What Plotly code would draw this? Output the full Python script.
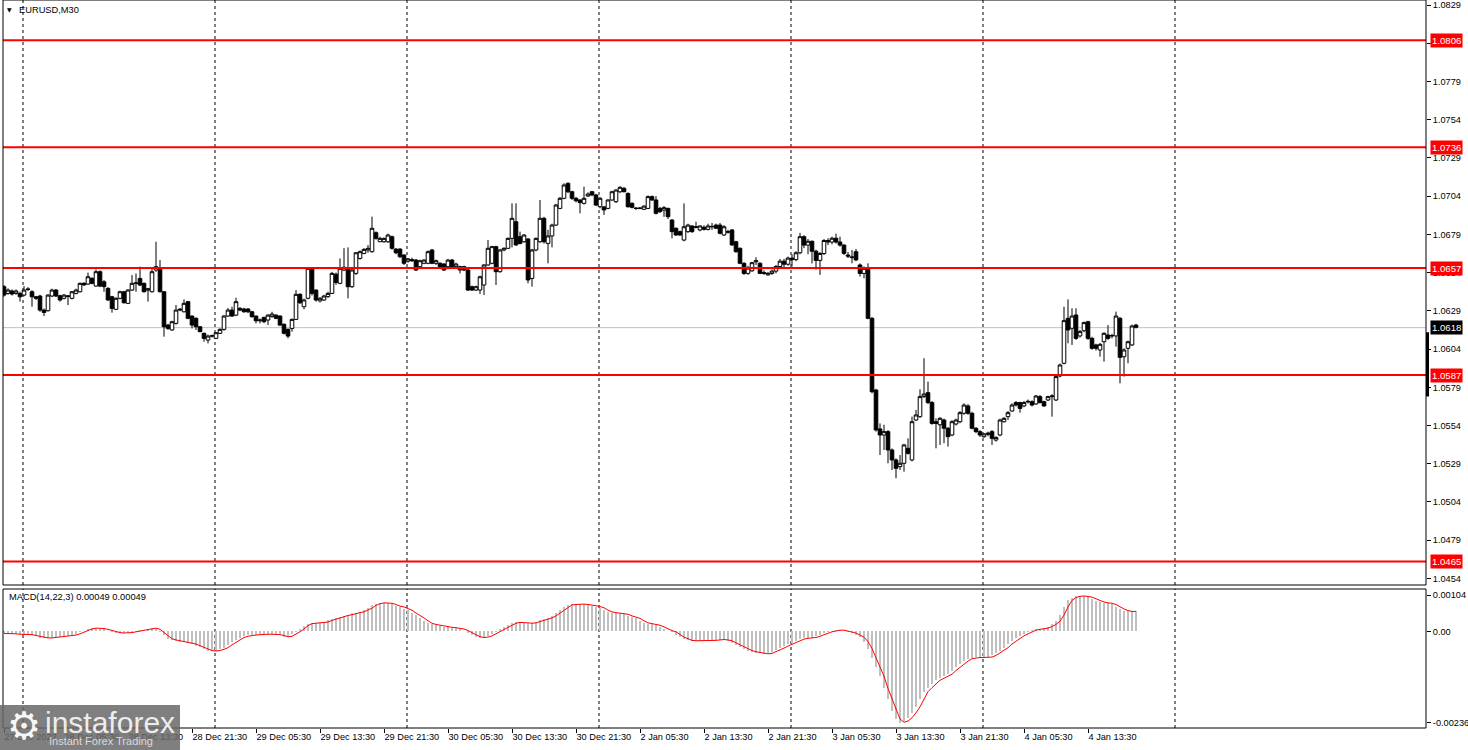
import plotly.graph_objects as go

# ---------------- data (EURUSD M30) ----------------
open_ = [1.06448, 1.06404, 1.06420, 1.06404, 1.06404, 1.06393, 1.06430, 1.06415, 1.06382, 1.06387,
         1.06295, 1.06291, 1.06387, 1.06426, 1.06389, 1.06372, 1.06385, 1.06372, 1.06404, 1.06415,
         1.06470, 1.06465, 1.06502, 1.06452, 1.06546, 1.06480, 1.06437, 1.06382, 1.06300, 1.06372,
         1.06415, 1.06339, 1.06426, 1.06470, 1.06502, 1.06470, 1.06425, 1.06415, 1.06557, 1.06568,
         1.06415, 1.06197, 1.06165, 1.06208, 1.06295, 1.06284, 1.06350, 1.06256, 1.06241, 1.06186,
         1.06143, 1.06099, 1.06125, 1.06110, 1.06143, 1.06169, 1.06256, 1.06295, 1.06262, 1.06306,
         1.06302, 1.06302, 1.06284, 1.06256, 1.06225, 1.06247, 1.06230, 1.06252, 1.06262, 1.06256,
         1.06202, 1.06169, 1.06175, 1.06234, 1.06398, 1.06317, 1.06372, 1.06568, 1.06426, 1.06355,
         1.06361, 1.06383, 1.06404, 1.06530, 1.06470, 1.06557, 1.06568, 1.06448, 1.06535, 1.06633,
         1.06666, 1.06688, 1.06677, 1.06801, 1.06742, 1.06742, 1.06742, 1.06775, 1.06694, 1.06694,
         1.06655, 1.06615, 1.06625, 1.06622, 1.06579, 1.06601, 1.06601, 1.06688, 1.06601, 1.06601,
         1.06596, 1.06579, 1.06622, 1.06579, 1.06579, 1.06579, 1.06557, 1.06448, 1.06426, 1.06426,
         1.06459, 1.06590, 1.06601, 1.06710, 1.06546, 1.06688, 1.06699, 1.06764, 1.06873, 1.06775,
         1.06742, 1.06760, 1.06502, 1.06688, 1.06742, 1.06895, 1.06731, 1.06780, 1.06851, 1.06960,
         1.07026, 1.07124, 1.07069, 1.07026, 1.07015, 1.06993, 1.07041, 1.07069, 1.07048, 1.06971,
         1.06970, 1.06960, 1.07015, 1.07004, 1.07069, 1.07091, 1.07058, 1.06993, 1.06962, 1.06960,
         1.06954, 1.06960, 1.07037, 1.07015, 1.06960, 1.06949, 1.06960, 1.06884, 1.06830, 1.06808,
         1.06753, 1.06808, 1.06845, 1.06835, 1.06819, 1.06836, 1.06823, 1.06840, 1.06851, 1.06851,
         1.06786, 1.06808, 1.06819, 1.06742, 1.06699, 1.06601, 1.06535, 1.06552, 1.06610, 1.06601,
         1.06540, 1.06525, 1.06535, 1.06550, 1.06580, 1.06615, 1.06595, 1.06635, 1.06625, 1.06670,
         1.06775, 1.06720, 1.06745, 1.06680, 1.06620, 1.06665, 1.06750, 1.06740, 1.06765, 1.06740,
         1.06720, 1.06655, 1.06638, 1.06677, 1.06590, 1.06535, 1.06568, 1.06241, 1.05772, 1.05518,
         1.05478, 1.05500, 1.05380, 1.05315, 1.05271, 1.05293, 1.05391, 1.05315, 1.05576, 1.05598,
         1.05729, 1.05755, 1.05690, 1.05565, 1.05545, 1.05576, 1.05522, 1.05478, 1.05550, 1.05565,
         1.05620, 1.05668, 1.05620, 1.05522, 1.05500, 1.05467, 1.05482, 1.05500, 1.05445, 1.05478,
         1.05565, 1.05598, 1.05635, 1.05690, 1.05690, 1.05668, 1.05694, 1.05696, 1.05681, 1.05729,
         1.05696, 1.05707, 1.05729, 1.05707, 1.05864, 1.05947, 1.06241, 1.06176, 1.06263, 1.06126,
         1.06160, 1.06219, 1.06110, 1.06067, 1.06034, 1.06088, 1.06132, 1.06126, 1.06126, 1.06241,
         1.05990, 1.06045, 1.06067, 1.06197]

high = [1.06459, 1.06437, 1.06430, 1.06430, 1.06415, 1.06452, 1.06445, 1.06425, 1.06388, 1.06395,
        1.06305, 1.06400, 1.06435, 1.06433, 1.06395, 1.06400, 1.06393, 1.06420, 1.06435, 1.06475,
        1.06478, 1.06540, 1.06510, 1.06561, 1.06555, 1.06491, 1.06445, 1.06388, 1.06378, 1.06422,
        1.06420, 1.06432, 1.06524, 1.06535, 1.06579, 1.06475, 1.06440, 1.06568, 1.06742, 1.06622,
        1.06420, 1.06205, 1.06225, 1.06328, 1.06308, 1.06365, 1.06355, 1.06260, 1.06248, 1.06190,
        1.06148, 1.06135, 1.06135, 1.06152, 1.06175, 1.06262, 1.06308, 1.06317, 1.06376, 1.06315,
        1.06310, 1.06308, 1.06290, 1.06260, 1.06240, 1.06252, 1.06268, 1.06284, 1.06268, 1.06260,
        1.06208, 1.06175, 1.06240, 1.06426, 1.06405, 1.06370, 1.06575, 1.06573, 1.06430, 1.06380,
        1.06395, 1.06415, 1.06545, 1.06540, 1.06633, 1.06700, 1.06705, 1.06565, 1.06675, 1.06685,
        1.06700, 1.06720, 1.06906, 1.06810, 1.06775, 1.06770, 1.06795, 1.06782, 1.06700, 1.06700,
        1.06660, 1.06635, 1.06638, 1.06630, 1.06625, 1.06628, 1.06685, 1.06695, 1.06625, 1.06608,
        1.06602, 1.06630, 1.06630, 1.06605, 1.06585, 1.06585, 1.06565, 1.06455, 1.06455, 1.06520,
        1.06595, 1.06753, 1.06715, 1.06715, 1.06695, 1.06705, 1.06770, 1.06993, 1.06993, 1.06808,
        1.06792, 1.06765, 1.06695, 1.06770, 1.07015, 1.06905, 1.06820, 1.06860, 1.06990, 1.07035,
        1.07124, 1.07130, 1.07075, 1.07035, 1.07020, 1.07102, 1.07065, 1.07075, 1.07055, 1.07035,
        1.06975, 1.07020, 1.07075, 1.07085, 1.07105, 1.07100, 1.07065, 1.07000, 1.06968, 1.06968,
        1.06980, 1.07045, 1.07045, 1.07040, 1.06970, 1.06975, 1.06965, 1.06890, 1.06835, 1.06815,
        1.06993, 1.06860, 1.06850, 1.06873, 1.06850, 1.06850, 1.06860, 1.06865, 1.06860, 1.06865,
        1.06850, 1.06820, 1.06825, 1.06748, 1.06705, 1.06608, 1.06585, 1.06610, 1.06640, 1.06608,
        1.06555, 1.06545, 1.06560, 1.06590, 1.06630, 1.06630, 1.06645, 1.06660, 1.06680, 1.06800,
        1.06785, 1.06760, 1.06750, 1.06690, 1.06675, 1.06760, 1.06765, 1.06775, 1.06795, 1.06775,
        1.06725, 1.06675, 1.06688, 1.06695, 1.06600, 1.06580, 1.06601, 1.06250, 1.05780, 1.05554,
        1.05545, 1.05510, 1.05390, 1.05325, 1.05347, 1.05420, 1.05456, 1.05598, 1.05642, 1.05777,
        1.05980, 1.05827, 1.05700, 1.05587, 1.05595, 1.05585, 1.05530, 1.05575, 1.05585, 1.05635,
        1.05685, 1.05680, 1.05630, 1.05530, 1.05510, 1.05490, 1.05500, 1.05510, 1.05470, 1.05585,
        1.05595, 1.05635, 1.05685, 1.05700, 1.05695, 1.05700, 1.05710, 1.05705, 1.05740, 1.05740,
        1.05702, 1.05735, 1.05745, 1.05870, 1.05945, 1.06317, 1.06365, 1.06307, 1.06307, 1.06165,
        1.06220, 1.06225, 1.06120, 1.06075, 1.06080, 1.06150, 1.06197, 1.06140, 1.06285, 1.06250,
        1.06045, 1.06095, 1.06200, 1.06205]

low = [1.06383, 1.06395, 1.06390, 1.06395, 1.06350, 1.06385, 1.06420, 1.06317, 1.06361, 1.06284,
       1.06256, 1.06285, 1.06380, 1.06380, 1.06350, 1.06365, 1.06328, 1.06365, 1.06398, 1.06410,
       1.06452, 1.06460, 1.06463, 1.06448, 1.06445, 1.06415, 1.06355, 1.06278, 1.06295, 1.06365,
       1.06338, 1.06335, 1.06420, 1.06415, 1.06452, 1.06410, 1.06350, 1.06410, 1.06545, 1.06410,
       1.06121, 1.06165, 1.06160, 1.06200, 1.06288, 1.06280, 1.06235, 1.06175, 1.06165, 1.06150,
       1.06088, 1.06077, 1.06115, 1.06105, 1.06138, 1.06160, 1.06250, 1.06250, 1.06255, 1.06288,
       1.06278, 1.06275, 1.06245, 1.06208, 1.06208, 1.06210, 1.06197, 1.06245, 1.06235, 1.06190,
       1.06135, 1.06110, 1.06154, 1.06230, 1.06335, 1.06300, 1.06365, 1.06390, 1.06350, 1.06345,
       1.06355, 1.06375, 1.06400, 1.06460, 1.06465, 1.06550, 1.06372, 1.06440, 1.06525, 1.06625,
       1.06660, 1.06670, 1.06670, 1.06755, 1.06740, 1.06735, 1.06735, 1.06690, 1.06660, 1.06635,
       1.06590, 1.06605, 1.06610, 1.06550, 1.06570, 1.06595, 1.06595, 1.06595, 1.06590, 1.06570,
       1.06550, 1.06575, 1.06572, 1.06565, 1.06535, 1.06550, 1.06420, 1.06420, 1.06420, 1.06400,
       1.06393, 1.06585, 1.06595, 1.06459, 1.06540, 1.06680, 1.06695, 1.06705, 1.06715, 1.06725,
       1.06735, 1.06470, 1.06448, 1.06680, 1.06735, 1.06730, 1.06601, 1.06705, 1.06845, 1.06955,
       1.07020, 1.07060, 1.07015, 1.07000, 1.06928, 1.06985, 1.07035, 1.07040, 1.06975, 1.06960,
       1.06917, 1.06955, 1.07010, 1.06995, 1.07060, 1.07065, 1.06965, 1.06960, 1.06950, 1.06955,
       1.06950, 1.06955, 1.07010, 1.06920, 1.06930, 1.06905, 1.06890, 1.06764, 1.06780, 1.06780,
       1.06745, 1.06800, 1.06800, 1.06830, 1.06810, 1.06815, 1.06815, 1.06820, 1.06825, 1.06790,
       1.06780, 1.06795, 1.06715, 1.06670, 1.06595, 1.06525, 1.06525, 1.06545, 1.06590, 1.06530,
       1.06525, 1.06520, 1.06525, 1.06535, 1.06570, 1.06575, 1.06585, 1.06580, 1.06615, 1.06660,
       1.06700, 1.06660, 1.06600, 1.06560, 1.06525, 1.06655, 1.06720, 1.06725, 1.06730, 1.06710,
       1.06655, 1.06635, 1.06601, 1.06615, 1.06514, 1.06503, 1.06235, 1.05750, 1.05500, 1.05347,
       1.05380, 1.05293, 1.05249, 1.05195, 1.05249, 1.05238, 1.05350, 1.05305, 1.05570, 1.05590,
       1.05720, 1.05680, 1.05545, 1.05391, 1.05413, 1.05424, 1.05402, 1.05470, 1.05540, 1.05555,
       1.05610, 1.05610, 1.05515, 1.05490, 1.05465, 1.05460, 1.05470, 1.05413, 1.05435, 1.05470,
       1.05560, 1.05576, 1.05630, 1.05665, 1.05624, 1.05660, 1.05685, 1.05665, 1.05675, 1.05685,
       1.05663, 1.05700, 1.05598, 1.05700, 1.05855, 1.05940, 1.06078, 1.06067, 1.06100, 1.06115,
       1.06150, 1.06100, 1.06035, 1.06030, 1.05990, 1.05958, 1.06100, 1.06110, 1.06056, 1.05816,
       1.05860, 1.05947, 1.06060, 1.06175]

close = [1.06393, 1.06426, 1.06400, 1.06420, 1.06382, 1.06426, 1.06432, 1.06382, 1.06372, 1.06295,
         1.06280, 1.06393, 1.06426, 1.06387, 1.06361, 1.06393, 1.06387, 1.06415, 1.06426, 1.06470,
         1.06460, 1.06513, 1.06470, 1.06546, 1.06452, 1.06448, 1.06361, 1.06306, 1.06372, 1.06415,
         1.06343, 1.06426, 1.06470, 1.06472, 1.06459, 1.06415, 1.06435, 1.06546, 1.06579, 1.06415,
         1.06186, 1.06175, 1.06219, 1.06295, 1.06300, 1.06339, 1.06241, 1.06197, 1.06186, 1.06154,
         1.06110, 1.06125, 1.06127, 1.06147, 1.06169, 1.06256, 1.06295, 1.06256, 1.06350, 1.06295,
         1.06284, 1.06284, 1.06252, 1.06225, 1.06230, 1.06219, 1.06262, 1.06269, 1.06241, 1.06197,
         1.06143, 1.06125, 1.06234, 1.06398, 1.06343, 1.06361, 1.06568, 1.06404, 1.06361, 1.06372,
         1.06387, 1.06404, 1.06535, 1.06475, 1.06568, 1.06575, 1.06448, 1.06557, 1.06670, 1.06677,
         1.06692, 1.06699, 1.06830, 1.06764, 1.06764, 1.06764, 1.06786, 1.06699, 1.06670, 1.06644,
         1.06601, 1.06630, 1.06618, 1.06557, 1.06618, 1.06622, 1.06677, 1.06601, 1.06618, 1.06579,
         1.06557, 1.06622, 1.06579, 1.06596, 1.06557, 1.06557, 1.06426, 1.06426, 1.06448, 1.06513,
         1.06590, 1.06699, 1.06710, 1.06546, 1.06688, 1.06699, 1.06764, 1.06895, 1.06721, 1.06731,
         1.06786, 1.06492, 1.06688, 1.06764, 1.06895, 1.06742, 1.06780, 1.06851, 1.06982, 1.07026,
         1.07113, 1.07069, 1.07026, 1.07010, 1.06998, 1.07026, 1.07054, 1.07048, 1.06982, 1.07026,
         1.06950, 1.07015, 1.07069, 1.07080, 1.07098, 1.07069, 1.06971, 1.06967, 1.06960, 1.06962,
         1.06975, 1.07037, 1.07015, 1.06928, 1.06939, 1.06965, 1.06906, 1.06808, 1.06786, 1.06786,
         1.06840, 1.06851, 1.06808, 1.06840, 1.06845, 1.06823, 1.06845, 1.06842, 1.06830, 1.06797,
         1.06840, 1.06805, 1.06721, 1.06677, 1.06601, 1.06535, 1.06570, 1.06605, 1.06618, 1.06535,
         1.06535, 1.06535, 1.06550, 1.06580, 1.06615, 1.06595, 1.06635, 1.06625, 1.06670, 1.06775,
         1.06720, 1.06745, 1.06680, 1.06620, 1.06665, 1.06750, 1.06740, 1.06765, 1.06740, 1.06720,
         1.06666, 1.06648, 1.06642, 1.06623, 1.06535, 1.06568, 1.06241, 1.05761, 1.05511, 1.05478,
         1.05500, 1.05380, 1.05315, 1.05260, 1.05293, 1.05413, 1.05358, 1.05565, 1.05609, 1.05729,
         1.05746, 1.05690, 1.05554, 1.05554, 1.05587, 1.05522, 1.05467, 1.05565, 1.05576, 1.05624,
         1.05674, 1.05620, 1.05522, 1.05500, 1.05478, 1.05485, 1.05490, 1.05456, 1.05462, 1.05576,
         1.05587, 1.05624, 1.05674, 1.05674, 1.05652, 1.05690, 1.05698, 1.05674, 1.05733, 1.05690,
         1.05668, 1.05729, 1.05733, 1.05860, 1.05936, 1.06226, 1.06165, 1.06256, 1.06110, 1.06154,
         1.06213, 1.06110, 1.06045, 1.06045, 1.06071, 1.06143, 1.06110, 1.06128, 1.06256, 1.05986,
         1.06034, 1.06088, 1.06191, 1.06182]

macd_hist = [-5e-5, -6e-5, -6e-5, -7e-5, -7e-5, -8e-5, -8e-5, -10e-5,
             -12e-5, -15e-5, -16e-5, -16e-5, -15e-5, -14e-5, -13e-5, -12e-5, -11e-5, -9e-5,
             -6e-5, -2e-5, 2e-5, 6e-5, 8e-5, 8e-5, 7e-5, 5e-5, 2e-5, -1e-5,
             -3e-5, -4e-5, -4e-5, -3e-5, -1e-5, 1e-5, 3e-5, 4e-5, 6e-5, 8e-5,
             5e-5, -2e-5, -10e-5, -18e-5, -21e-5, -23e-5, -25e-5, -26e-5, -28e-5, -31e-5,
             -35e-5, -39e-5, -43e-5, -47e-5, -48e-5, -47e-5, -44e-5, -40e-5, -33e-5, -27e-5,
             -20e-5, -15e-5, -12e-5, -10e-5, -9e-5, -8e-5, -7e-5, -7e-5, -7e-5, -7e-5,
             -8e-5, -10e-5, -13e-5, -12e-5, -7e-5, -1e-5, 6e-5, 14e-5, 19e-5, 20e-5,
             21e-5, 21e-5, 23e-5, 27e-5, 30e-5, 34e-5, 36e-5, 39e-5, 41e-5, 44e-5,
             46e-5, 48e-5, 52e-5, 57e-5, 64e-5, 68e-5, 70e-5, 70e-5, 69e-5, 66e-5,
             62e-5, 60e-5, 56e-5, 52e-5, 45e-5, 40e-5, 33e-5, 26e-5, 20e-5, 17e-5,
             15e-5, 13e-5, 11e-5, 10e-5, 9e-5, 8e-5, 6e-5, 2e-5, -3e-5, -8e-5,
             -13e-5, -15e-5, -14e-5, -11e-5, -6e-5, -1e-5, 5e-5, 11e-5, 16e-5, 20e-5,
             22e-5, 22e-5, 21e-5, 20e-5, 21e-5, 24e-5, 27e-5, 30e-5, 33e-5, 38e-5,
             45e-5, 53e-5, 60e-5, 65e-5, 66e-5, 67e-5, 67e-5, 66e-5, 65e-5, 63e-5,
             61e-5, 58e-5, 52e-5, 48e-5, 46e-5, 45e-5, 44e-5, 42e-5, 38e-5, 35e-5,
             32e-5, 26e-5, 21e-5, 19e-5, 17e-5, 15e-5, 11e-5, 6e-5, 2e-5, -1e-5,
             -8e-5, -14e-5, -18e-5, -22e-5, -23e-5, -23e-5, -23e-5, -23e-5, -23e-5, -22e-5,
             -21e-5, -20e-5, -21e-5, -23e-5, -28e-5, -33e-5, -38e-5, -43e-5, -47e-5, -50e-5,
             -52e-5, -54e-5, -55e-5, -54e-5, -50e-5, -46e-5, -41e-5, -36e-5, -32e-5, -28e-5,
             -23e-5, -19e-5, -17e-5, -16e-5, -15e-5, -12e-5, -8e-5, -4e-5, -1e-5, 1e-5,
             3e-5, 3e-5, 1e-5, -1e-5, -4e-5, -9e-5, -14e-5, -25e-5, -42e-5, -65e-5,
             -88e-5, -110e-5, -140e-5, -165e-5, -195e-5, -215e-5, -225e-5, -220e-5, -212e-5, -200e-5,
             -185e-5, -165e-5, -148e-5, -138e-5, -128e-5, -120e-5, -115e-5, -110e-5, -105e-5, -96e-5,
             -88e-5, -80e-5, -73e-5, -67e-5, -65e-5, -64e-5, -64e-5, -64e-5, -63e-5, -59e-5,
             -53e-5, -47e-5, -40e-5, -31e-5, -24e-5, -17e-5, -11e-5, -6e-5, -1e-5, 3e-5,
             5e-5, 6e-5, 8e-5, 12e-5, 17e-5, 25e-5, 40e-5, 60e-5, 76e-5, 83e-5,
             86e-5, 87e-5, 86e-5, 84e-5, 80e-5, 75e-5, 72e-5, 70e-5, 69e-5, 66e-5,
             60e-5, 55e-5, 51e-5, 49e-5, 49e-5, 49e-5]

macd_signal = [-5e-5, -5e-5, -6e-5, -6e-5, -7e-5, -7e-5, -8e-5, -8e-5,
               -10e-5, -12e-5, -15e-5, -16e-5, -16e-5, -15e-5, -14e-5, -13e-5, -12e-5, -11e-5,
               -9e-5, -6e-5, -2e-5, 2e-5, 6e-5, 8e-5, 8e-5, 7e-5, 5e-5, 2e-5,
               -1e-5, -3e-5, -4e-5, -4e-5, -3e-5, -1e-5, 1e-5, 3e-5, 4e-5, 6e-5,
               8e-5, 5e-5, -2e-5, -10e-5, -18e-5, -21e-5, -23e-5, -25e-5, -26e-5, -28e-5,
               -31e-5, -35e-5, -39e-5, -43e-5, -47e-5, -48e-5, -47e-5, -44e-5, -40e-5, -33e-5,
               -27e-5, -20e-5, -15e-5, -12e-5, -10e-5, -9e-5, -8e-5, -7e-5, -7e-5, -7e-5,
               -7e-5, -8e-5, -10e-5, -13e-5, -12e-5, -7e-5, -1e-5, 6e-5, 14e-5, 19e-5,
               20e-5, 21e-5, 21e-5, 23e-5, 27e-5, 30e-5, 34e-5, 36e-5, 39e-5, 41e-5,
               44e-5, 46e-5, 48e-5, 52e-5, 57e-5, 64e-5, 68e-5, 70e-5, 70e-5, 69e-5,
               66e-5, 62e-5, 60e-5, 56e-5, 52e-5, 45e-5, 40e-5, 33e-5, 26e-5, 20e-5,
               17e-5, 15e-5, 13e-5, 11e-5, 10e-5, 9e-5, 8e-5, 6e-5, 2e-5, -3e-5,
               -8e-5, -13e-5, -15e-5, -14e-5, -11e-5, -6e-5, -1e-5, 5e-5, 11e-5, 16e-5,
               20e-5, 22e-5, 22e-5, 21e-5, 20e-5, 21e-5, 24e-5, 27e-5, 30e-5, 33e-5,
               38e-5, 45e-5, 53e-5, 60e-5, 65e-5, 66e-5, 67e-5, 67e-5, 66e-5, 65e-5,
               63e-5, 61e-5, 58e-5, 52e-5, 48e-5, 46e-5, 45e-5, 44e-5, 42e-5, 38e-5,
               35e-5, 32e-5, 26e-5, 21e-5, 19e-5, 17e-5, 15e-5, 11e-5, 6e-5, 2e-5,
               -1e-5, -8e-5, -14e-5, -18e-5, -22e-5, -23e-5, -23e-5, -23e-5, -23e-5, -23e-5,
               -22e-5, -21e-5, -20e-5, -21e-5, -23e-5, -28e-5, -33e-5, -38e-5, -43e-5, -47e-5,
               -50e-5, -52e-5, -54e-5, -55e-5, -54e-5, -50e-5, -46e-5, -41e-5, -36e-5, -32e-5,
               -28e-5, -23e-5, -19e-5, -17e-5, -16e-5, -15e-5, -12e-5, -8e-5, -4e-5, -1e-5,
               1e-5, 3e-5, 3e-5, 1e-5, -1e-5, -4e-5, -9e-5, -14e-5, -25e-5, -42e-5,
               -65e-5, -88e-5, -110e-5, -140e-5, -165e-5, -195e-5, -215e-5, -223e-5, -220e-5, -212e-5,
               -200e-5, -185e-5, -165e-5, -148e-5, -138e-5, -128e-5, -120e-5, -115e-5, -110e-5, -105e-5,
               -96e-5, -88e-5, -80e-5, -73e-5, -67e-5, -65e-5, -64e-5, -64e-5, -64e-5, -63e-5,
               -59e-5, -53e-5, -47e-5, -40e-5, -31e-5, -24e-5, -17e-5, -11e-5, -6e-5, -1e-5,
               3e-5, 5e-5, 6e-5, 8e-5, 12e-5, 17e-5, 25e-5, 40e-5, 60e-5, 76e-5,
               83e-5, 86e-5, 87e-5, 86e-5, 84e-5, 80e-5, 75e-5, 72e-5, 70e-5, 69e-5,
               66e-5, 60e-5, 55e-5, 51e-5, 49e-5, 49e-5]

time_tick_bars = [0, 15, 31, 47, 63, 79, 95, 111, 127, 143, 159, 175, 191, 207, 223, 239, 255, 271]
time_tick_labels = ["27 Dec 2022", "28 Dec 05:30", "28 Dec 13:30", "28 Dec 21:30", "29 Dec 05:30",
                    "29 Dec 13:30", "29 Dec 21:30", "30 Dec 05:30", "30 Dec 13:30", "30 Dec 21:30",
                    "2 Jan 05:30", "2 Jan 13:30", "2 Jan 21:30", "3 Jan 05:30", "3 Jan 13:30",
                    "3 Jan 21:30", "4 Jan 05:30", "4 Jan 13:30"]
price_ticks = [1.0829, 1.0804, 1.0779, 1.0754, 1.0729, 1.0704, 1.0679, 1.0654,
               1.0629, 1.0604, 1.0579, 1.0554, 1.0529, 1.0504, 1.0479, 1.0454]
levels = [1.0806, 1.0736, 1.0657, 1.0587, 1.0465]
current_price = 1.0618
macd_tick_pos = [0.00089, 0.0, -0.00224]
macd_tick_labels = ["0.00104", "0.00", "-0.00236"]
grid_bars = [4.75, 52.75, 100.75, 148.75, 196.75, 244.75, 292.75]

# ---------------- layout geometry ----------------
W, H = 1468, 750
ML, MR, MT, MB = 3, 42, 0, 22
PW, PH = W - ML - MR, H - MT - MB


def px(x):
    return (x - ML) / PW


def py(y):
    return (H - MB - y) / PH


FONT = "Liberation Sans, Arial, sans-serif"
bars = list(range(len(close)))

fig = go.Figure()
fig.add_trace(go.Candlestick(
    x=bars, open=open_, high=high, low=low, close=close,
    increasing=dict(line=dict(color="black", width=1), fillcolor="white"),
    decreasing=dict(line=dict(color="black", width=1), fillcolor="black"),
    whiskerwidth=0, hoverinfo="skip", showlegend=False, xaxis="x", yaxis="y"))
fig.add_trace(go.Bar(
    x=bars, y=macd_hist, marker=dict(color="#C0C0C0", line=dict(width=0)),
    width=0.72, hoverinfo="skip", showlegend=False, xaxis="x2", yaxis="y2"))
fig.add_trace(go.Scatter(
    x=bars, y=macd_signal, mode="lines", line=dict(color="#FF0000", width=1),
    hoverinfo="skip", showlegend=False, xaxis="x2", yaxis="y2"))

shapes = []
# vertical dashed grid
for g in grid_bars:
    for yr in ("y domain", "y2 domain"):
        shapes.append(dict(type="line", xref="x", yref=yr, x0=g, x1=g, y0=0, y1=1,
                           line=dict(color="black", width=1, dash="3px,3px"), layer="below"))
# current price line
shapes.append(dict(type="line", xref="x domain", yref="y", x0=0, x1=1,
                   y0=current_price, y1=current_price,
                   line=dict(color="#C0C0C0", width=1), layer="below"))
# support / resistance levels
for lv in levels:
    shapes.append(dict(type="line", xref="x domain", yref="y", x0=0, x1=1, y0=lv, y1=lv,
                       line=dict(color="#FF0000", width=2), layer="above"))
# panel frames
shapes.append(dict(type="rect", xref="x domain", yref="y domain", x0=0, x1=1, y0=0, y1=1,
                   line=dict(color="black", width=1), layer="above"))
shapes.append(dict(type="rect", xref="x domain", yref="y2 domain", x0=0, x1=1, y0=0, y1=1,
                   line=dict(color="black", width=1), layer="above"))
# black marker on price scale
shapes.append(dict(type="line", xref="paper", yref="y", x0=px(1427.5), x1=px(1427.5),
                   y0=1.0573, y1=1.0615, line=dict(color="black", width=3), layer="above"))
# watermark box
shapes.append(dict(type="rect", xref="paper", yref="paper", x0=px(0), x1=px(180),
                   y0=py(750), y1=py(705), fillcolor="rgba(105,105,105,0.85)",
                   line=dict(width=0), layer="above"))

annotations = []
for lv in levels:
    annotations.append(dict(xref="paper", yref="y", x=px(1430), y=lv, xanchor="left",
                            yanchor="middle", text=f"{lv:.4f}", showarrow=False,
                            bgcolor="#FF0000", borderpad=1,
                            font=dict(family=FONT, size=9.6, color="white")))
annotations.append(dict(xref="paper", yref="y", x=px(1430), y=current_price, xanchor="left",
                        yanchor="middle", text=f"{current_price:.4f}", showarrow=False,
                        bgcolor="black", borderpad=1,
                        font=dict(family=FONT, size=9.6, color="white")))
annotations.append(dict(xref="paper", yref="paper", x=px(5), y=py(10), xanchor="left",
                        yanchor="middle", text="▼", showarrow=False,
                        font=dict(family="DejaVu Sans", size=6, color="black")))
annotations.append(dict(xref="paper", yref="paper", x=px(17), y=py(10), xanchor="left",
                        yanchor="middle", text="EURUSD,M30", showarrow=False,
                        font=dict(family=FONT, size=9.3, color="black")))
annotations.append(dict(xref="paper", yref="paper", x=px(7), y=py(597), xanchor="left",
                        yanchor="middle", text="MACD(14,22,3) 0.00049 0.00049", showarrow=False,
                        font=dict(family=FONT, size=9.3, color="black")))
# watermark texts
annotations.append(dict(xref="paper", yref="paper", x=px(24), y=py(726), xanchor="center",
                        yanchor="middle", text="⚙", showarrow=False,
                        font=dict(family="DejaVu Sans", size=38, color="rgba(255,255,255,0.95)")))
annotations.append(dict(xref="paper", yref="paper", x=px(43), y=py(722), xanchor="left",
                        yanchor="middle", text="instaforex", showarrow=False,
                        font=dict(family=FONT, size=30, color="rgba(245,245,245,0.95)")))
annotations.append(dict(xref="paper", yref="paper", x=px(47), y=py(741), xanchor="left",
                        yanchor="middle", text="Instant Forex Trading", showarrow=False,
                        font=dict(family=FONT, size=11, color="rgba(225,225,225,0.95)")))

main_dom = [py(585), 1.0]
macd_dom = [0.0, py(589)]

fig.update_layout(
    width=W, height=H, margin=dict(l=ML, r=MR, t=MT, b=MB, pad=0, autoexpand=False),
    paper_bgcolor="white", plot_bgcolor="white", showlegend=False,
    boxgap=0.05, boxgroupgap=0.05, bargap=0,
    shapes=shapes, annotations=annotations, hovermode=False,
    xaxis=dict(domain=[0, 1], anchor="y", range=[-0.25, 355.5], showticklabels=False,
               showgrid=False, zeroline=False, showline=False, ticks="", automargin=False,
               rangeslider=dict(visible=False), fixedrange=True),
    xaxis2=dict(domain=[0, 1], anchor="y2", matches="x", range=[-0.25, 355.5],
                tickmode="array", tickvals=time_tick_bars, ticktext=time_tick_labels,
                ticks="outside", ticklen=4, tickcolor="black", tickwidth=1, tickangle=0,
                ticklabelposition="outside right", automargin=False,
                tickfont=dict(family=FONT, size=9.2, color="black"),
                showgrid=False, zeroline=False, showline=False),
    yaxis=dict(domain=main_dom, anchor="x", side="right", range=[1.04497, 1.08323],
               tickmode="array", tickvals=price_ticks, tickformat=".4f", automargin=False,
               ticks="outside", ticklen=4, tickcolor="black",
               tickfont=dict(family=FONT, size=9.2, color="black"),
               showgrid=False, zeroline=False, showline=False),
    yaxis2=dict(domain=macd_dom, anchor="x2", side="right", range=[-0.00237, 0.00104],
                tickmode="array", tickvals=macd_tick_pos, ticktext=macd_tick_labels,
                ticks="outside", ticklen=4, tickcolor="black", automargin=False,
                tickfont=dict(family=FONT, size=9.2, color="black"),
                showgrid=False, zeroline=False, showline=False),
)

fig.write_html("out.html", config={"displayModeBar": False, "staticPlot": True},
               post_script="document.body.style.margin='0px';document.body.style.overflow='hidden';")
